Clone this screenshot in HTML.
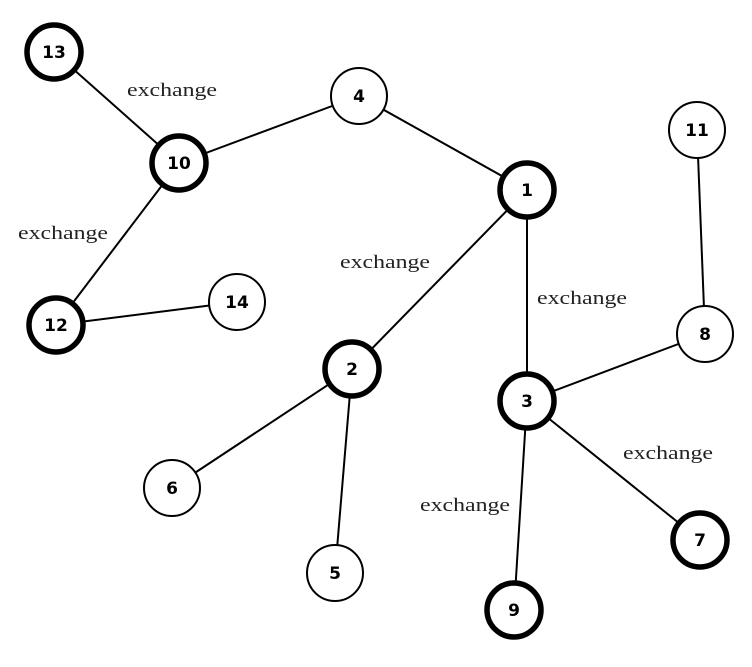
<!DOCTYPE html>
<html><head><style>body{margin:0;background:#fff}</style></head><body>
<svg width="752" height="662" xmlns="http://www.w3.org/2000/svg">
<g stroke="#000" stroke-width="2">
<line x1="54" y1="52" x2="179" y2="163"/>
<line x1="179" y1="163" x2="359" y2="96"/>
<line x1="359" y1="96" x2="527" y2="190"/>
<line x1="179" y1="163" x2="56" y2="325"/>
<line x1="56" y1="325" x2="237" y2="302"/>
<line x1="527" y1="190" x2="352" y2="369"/>
<line x1="527" y1="190" x2="527" y2="401"/>
<line x1="697" y1="130" x2="705" y2="334"/>
<line x1="705" y1="334" x2="527" y2="401"/>
<line x1="352" y1="369" x2="172" y2="488"/>
<line x1="352" y1="369" x2="335" y2="573"/>
<line x1="527" y1="401" x2="700" y2="540"/>
<line x1="527" y1="401" x2="514" y2="610"/>
</g>
<g fill="#fff" stroke="#000">
<g stroke-width="5.5">
<circle cx="54" cy="52" r="27"/><circle cx="179" cy="163" r="27"/><circle cx="527" cy="190" r="27"/>
<circle cx="56" cy="325" r="27"/><circle cx="352" cy="369" r="27"/><circle cx="527" cy="401" r="27"/>
<circle cx="700" cy="540" r="27"/><circle cx="514" cy="610" r="27"/>
</g>
<g stroke-width="2">
<circle cx="359" cy="96" r="28"/><circle cx="697" cy="130" r="28"/><circle cx="237" cy="302" r="28"/>
<circle cx="705" cy="334" r="28"/><circle cx="172" cy="488" r="28"/><circle cx="335" cy="573" r="28"/>
</g>
</g>
<g font-family="DejaVu Sans, sans-serif" font-weight="bold" font-size="17" text-anchor="middle" fill="#000">
<text x="54" y="58">13</text><text x="179" y="169">10</text><text x="359" y="102">4</text>
<text x="527" y="196">1</text><text x="697" y="136">11</text><text x="56" y="331">12</text>
<text x="237" y="308">14</text><text x="352" y="375">2</text><text x="705" y="340">8</text>
<text x="527" y="407">3</text><text x="172" y="494">6</text><text x="335" y="579">5</text>
<text x="700" y="546">7</text><text x="514" y="616">9</text>
</g>
<g font-family="Liberation Serif, serif" font-size="19" fill="#222">
<text x="127" y="96" textLength="90" lengthAdjust="spacingAndGlyphs">exchange</text>
<text x="18" y="239" textLength="90" lengthAdjust="spacingAndGlyphs">exchange</text>
<text x="340" y="268" textLength="90" lengthAdjust="spacingAndGlyphs">exchange</text>
<text x="537" y="304" textLength="90" lengthAdjust="spacingAndGlyphs">exchange</text>
<text x="623" y="459" textLength="90" lengthAdjust="spacingAndGlyphs">exchange</text>
<text x="420" y="511" textLength="90" lengthAdjust="spacingAndGlyphs">exchange</text>
</g>
</svg>
</body></html>
